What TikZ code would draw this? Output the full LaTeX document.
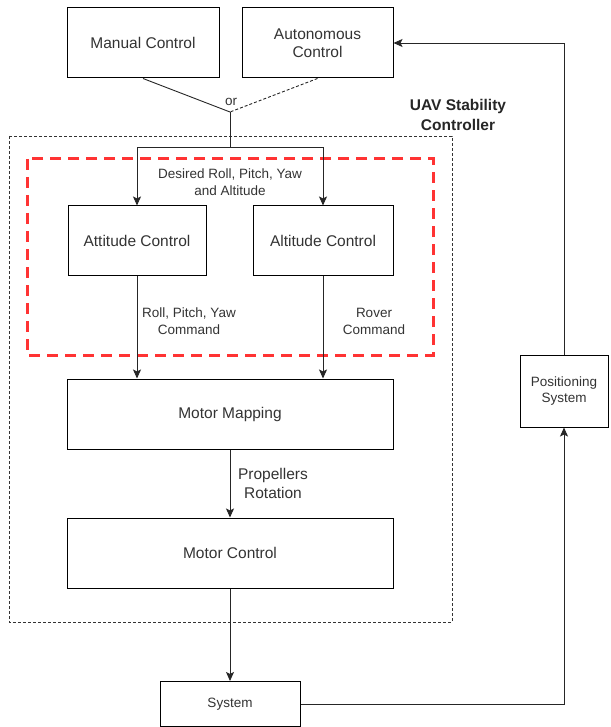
\documentclass[tikz,border=0pt]{standalone}
\usepackage{fontspec}
\setmainfont{Liberation Sans}
\usetikzlibrary{arrows.meta}
\definecolor{txt}{HTML}{333333}
\definecolor{redd}{HTML}{FF3333}
\tikzset{
  blk/.style={draw=black, line width=1pt, minimum width=#1, inner sep=0pt, align=center, text=txt, font=\fontsize{15.5}{18}\selectfont},
  blks/.style={draw=black, line width=1pt, inner sep=0pt, align=center, text=txt, font=\fontsize{13.5}{16}\selectfont},
  lbl/.style={inner sep=0pt, align=center, text=txt, font=\fontsize{13.5}{17}\selectfont},
  lblb/.style={inner sep=0pt, align=center, text=txt, font=\fontsize{15.5}{19.5}\selectfont},
  conn/.style={line width=0.9pt, draw=black!85},
  arr/.style={conn, -{Stealth[length=9pt,width=8pt,inset=2pt]}},
}
\begin{document}
\begin{tikzpicture}[x=1pt,y=-1pt]
\useasboundingbox (0,0) rectangle (610,727);
% containers
\draw[line width=0.8pt, dash pattern=on 3pt off 2pt, draw=black!80] (9,136) rectangle (452,622);
\draw[line width=3pt, redd, dash pattern=on 11pt off 7pt] (27,159) rectangle (433,355);
\node[lbl, font=\fontsize{15.5}{20}\selectfont\bfseries, text=black!85] (uav) at (458,115) {UAV Stability\\Controller};
% blocks
\node[blk=152pt, minimum height=70pt] (man) at (143,43) {Manual Control};
\node[blk=151pt, minimum height=70pt] (aut) at (317.5,43) {Autonomous\\Control};
\node[blk=138pt, minimum height=69pt] (att) at (137,240.5) {Attitude Control};
\node[blk=140pt, minimum height=69pt] (alt) at (323,240.5) {Altitude Control};
\node[blk=326pt, minimum height=70pt] (mm) at (230,414) {Motor Mapping};
\node[blk=326pt, minimum height=70pt] (mc) at (230,553) {Motor Control};
\node[blks, minimum width=140pt, minimum height=45pt] (sys) at (230,704) {System};
\node[blks, minimum width=88pt, minimum height=72pt] (pos) at (564,391) {Positioning\\System};
% junction
\coordinate (j) at (230,112);
\coordinate (b) at (230,147);
\draw[conn] (man.south) -- (j);
\draw[conn, dash pattern=on 3pt off 2pt] (aut.south) -- (j);
\node[lbl] (or) at (231,102) {or};
\draw[conn] (j) -- (b);
\draw[arr] (b) -| (att.north);
\draw[arr] (b) -| (alt.north);
\node[lbl] (des) at (230,182.5) {Desired Roll, Pitch, Yaw\\and Altitude};
% commands
\draw[arr] (att.south) -- (att.south |- mm.north);
\draw[arr] (alt.south) -- (alt.south |- mm.north);
\node[lbl] (rpy) at (189,321.5) {Roll, Pitch, Yaw\\Command};
\node[lbl] (rov) at (374,321.5) {Rover\\Command};
\draw[arr] (mm.south) -- (mc.north);
\node[lblb] (prop) at (273,483.5) {Propellers\\Rotation};
\draw[arr] (mc.south) -- (sys.north);
% feedback
\draw[arr] (sys.east) -| (pos.south);
\draw[arr] (pos.north) |- (aut.east);
\end{tikzpicture}
\end{document}
